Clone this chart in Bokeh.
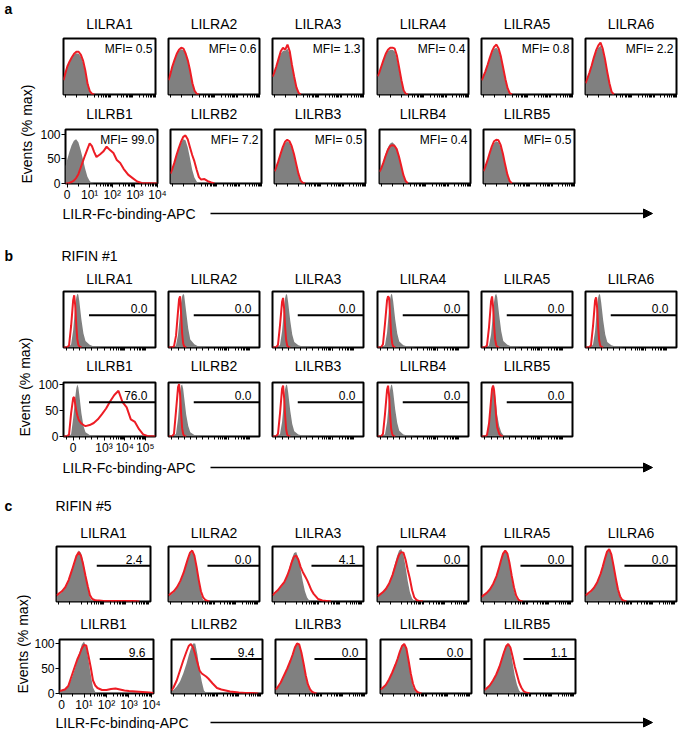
import math
from bokeh.plotting import figure
from bokeh.models import Range1d, FixedTicker, Label, Arrow, NormalHead, LinearAxis
from bokeh.layouts import row, column
from bokeh.embed import file_html
from bokeh.resources import INLINE

# ------------------------------------------------------------------ data
row1_names = ["LILRA1", "LILRA2", "LILRA3", "LILRA4", "LILRA5", "LILRA6"]
row2_names = ["LILRB1", "LILRB2", "LILRB3", "LILRB4", "LILRB5"]

# ---- panel a (x in decades, 0 = zero) ; y in % of max
a_x = [-0.07, 0.0, 0.1, 0.2, 0.3, 0.4, 0.5, 0.6, 0.7, 0.8, 0.9, 1.0, 1.1, 1.2,
       1.3, 1.45, 1.6, 1.75, 1.9, 2.05, 2.2, 2.35, 2.5, 2.7, 2.9, 3.1, 3.3, 4.0]
a_gray = [
    [33, 42, 55, 64, 72, 78, 81, 80, 74, 62, 42, 17, 4, 0],
    [30, 40, 56, 68, 78, 86, 89, 87, 78, 64, 44, 20, 5, 0],
    [38, 44, 55, 68, 80, 86, 86, 90, 80, 55, 32, 12, 2, 0],
    [38, 44, 55, 67, 78, 85, 88, 88, 85, 70, 48, 24, 6, 0],
    [30, 36, 46, 58, 70, 82, 90, 92, 86, 70, 48, 26, 9, 1, 0],
    [24, 32, 44, 57, 70, 83, 92, 96, 86, 66, 42, 20, 4, 0],
    [35, 48, 64, 78, 87, 90, 84, 68, 50, 30, 14, 5, 1, 0],
    [22, 30, 44, 58, 70, 82, 90, 88, 74, 52, 28, 12, 4, 0],
    [27, 34, 46, 60, 72, 82, 86, 83, 73, 57, 37, 17, 4, 0],
    [26, 32, 45, 60, 73, 81, 84, 80, 70, 54, 34, 15, 4, 0],
    [27, 34, 46, 60, 72, 82, 86, 84, 74, 57, 35, 15, 3, 0],
]
a_red = [
    [28, 40, 55, 65, 73, 80, 84, 84, 78, 66, 46, 20, 6, 1, 0],
    [28, 38, 55, 68, 80, 88, 92, 90, 80, 66, 46, 22, 7, 1, 0],
    [35, 42, 55, 70, 85, 92, 88, 98, 85, 58, 35, 14, 3, 0],
    [36, 42, 55, 68, 80, 88, 92, 92, 90, 76, 52, 28, 8, 1, 0],
    [28, 34, 45, 58, 72, 85, 94, 98, 90, 74, 52, 30, 12, 2, 0],
    [22, 30, 42, 56, 72, 86, 96, 102, 90, 70, 45, 22, 5, 0],
    [0, 0, 1, 3, 6, 11, 19, 32, 45, 58, 70, 82, 76, 64, 54, 59, 65, 75, 68, 62,
     48, 42, 30, 18, 11, 4, 1, 0],
    [20, 28, 42, 58, 72, 85, 95, 98, 90, 74, 58, 45, 28, 13, 8, 9, 5, 2, 0],
    [25, 32, 45, 60, 74, 85, 89, 86, 76, 60, 40, 20, 6, 1, 0],
    [24, 30, 42, 56, 68, 76, 78, 77, 70, 55, 36, 17, 5, 0],
    [25, 33, 46, 61, 75, 86, 89, 88, 78, 60, 38, 18, 5, 0],
]
a_mfi = ["0.5", "0.6", "1.3", "0.4", "0.8", "2.2", "99.0", "7.2", "0.5", "0.4", "0.5"]
a_ticks = [0, 1, 2, 3, 4]
a_tick_labels = ["0", "10\u00b9", "10\u00b2", "10\u00b3", "10\u2074"]

# ---- panel b (RIFIN #1); x in display units (0 = zero, 10^3 at 1.5, one unit per decade)
b_x = [-0.47, -0.3, -0.2, -0.1, 0.0, 0.05, 0.1, 0.15, 0.2, 0.25, 0.3, 0.4, 0.5, 0.6,
       0.8, 1.0, 1.2, 1.4, 1.6, 1.8, 2.0, 2.2, 2.4, 2.6, 2.8, 3.0, 3.2, 3.4, 3.6, 4.0]
b_gray = [
    [0, 0, 1, 6, 32, 55, 78, 93, 100, 98, 86, 52, 26, 12, 5, 2, 1, 0],
    [0, 0, 0, 4, 24, 44, 66, 84, 95, 100, 97, 66, 35, 15, 6, 2, 1, 0],
    [0, 0, 1, 5, 30, 52, 75, 92, 100, 97, 84, 50, 24, 10, 4, 2, 1, 0],
    [0, 0, 1, 5, 28, 50, 74, 90, 100, 98, 86, 52, 26, 11, 4, 2, 1, 0],
    [0, 0, 0, 4, 24, 45, 68, 86, 97, 100, 94, 60, 30, 12, 5, 2, 1, 0],
    [0, 0, 1, 6, 30, 54, 77, 93, 100, 97, 84, 50, 24, 10, 4, 2, 1, 0],
    [0, 0, 0, 5, 35, 55, 75, 92, 100, 95, 80, 45, 20, 8, 3, 1, 0],
    [0, 0, 1, 6, 35, 60, 85, 98, 100, 92, 75, 42, 20, 8, 3, 1, 0],
    [0, 0, 1, 5, 28, 50, 75, 92, 100, 98, 85, 50, 24, 10, 4, 2, 1, 0],
    [0, 0, 1, 5, 28, 50, 74, 90, 100, 98, 86, 52, 26, 11, 4, 2, 1, 0],
    [0, 0, 2, 20, 62, 85, 100, 96, 80, 60, 42, 20, 8, 3, 1, 0],
]
b_red = [
    [0, 0, 4, 40, 88, 97, 78, 42, 16, 5, 2, 0],
    [0, 0, 2, 22, 68, 90, 95, 62, 26, 8, 2, 0],
    [0, 0, 5, 42, 85, 92, 72, 38, 14, 4, 1, 0],
    [0, 0, 6, 45, 88, 95, 92, 60, 24, 8, 2, 0],
    [0, 0, 4, 38, 86, 95, 76, 40, 15, 5, 1, 0],
    [0, 0, 4, 40, 87, 93, 74, 38, 14, 4, 1, 0],
    [0, 0, 4, 45, 74, 76, 62, 50, 41, 34, 30, 25, 22, 20, 22, 26, 33, 43, 54, 68,
     80, 88, 66, 56, 33, 28, 14, 4, 1, 0],
    [0, 0, 5, 50, 95, 101, 80, 44, 16, 5, 1, 0],
    [0, 0, 5, 45, 92, 98, 75, 40, 14, 4, 1, 0],
    [0, 0, 5, 44, 90, 98, 78, 42, 15, 5, 1, 0],
    [0, 0, 3, 25, 70, 92, 98, 88, 65, 38, 18, 5, 1, 0],
]
b_gate_values = ["0.0", "0.0", "0.0", "0.0", "0.0", "0.0", "76.0", "0.0", "0.0", "0.0", "0.0"]
b_gate_start = 0.77
b_gate_level = [60, 66]
b_ticks = [0, 1.5, 2.5, 3.5]
b_tick_labels = ["0", "10\u00b3", "10\u2074", "10\u2075"]

# ---- panel c (RIFIN #5); x in decades
c_x = [-0.09, 0.0, 0.15, 0.3, 0.45, 0.6, 0.7, 0.8, 0.9, 1.0, 1.1, 1.2, 1.3, 1.4,
       1.5, 1.6, 1.7, 1.8, 2.0, 2.2, 2.4, 2.6, 2.8, 3.0, 3.3, 3.6, 3.9, 4.09]
c_gray = [
    [10, 13, 18, 26, 40, 60, 75, 90, 100, 95, 78, 52, 28, 8, 1, 0],
    [10, 13, 18, 26, 38, 54, 68, 82, 94, 98, 92, 70, 40, 15, 3, 0],
    [10, 14, 20, 28, 38, 54, 68, 84, 95, 97, 85, 64, 40, 20, 8, 2, 0],
    [9, 12, 17, 25, 38, 56, 72, 88, 100, 103, 92, 68, 40, 18, 6, 1, 0],
    [8, 11, 16, 23, 34, 50, 65, 82, 95, 100, 92, 72, 45, 22, 8, 2, 0],
    [10, 13, 18, 26, 37, 52, 67, 83, 96, 101, 90, 68, 42, 20, 7, 1, 0],
    [4, 5, 8, 15, 30, 50, 66, 82, 98, 104, 92, 66, 38, 12, 3, 0],
    [4, 7, 14, 24, 40, 60, 76, 90, 100, 100, 78, 48, 24, 6, 1, 0],
    [7, 11, 20, 34, 49, 65, 78, 91, 99, 96, 80, 58, 33, 14, 5, 1, 0],
    [7, 10, 16, 27, 42, 58, 72, 86, 97, 100, 88, 62, 35, 15, 5, 1, 0],
    [6, 9, 15, 25, 38, 55, 70, 85, 97, 100, 88, 62, 36, 18, 6, 1, 0],
]
c_red = [
    [12, 15, 20, 28, 42, 62, 76, 90, 97, 90, 72, 50, 30, 12, 5, 3, 2, 2, 1, 1, 1, 1, 1, 1, 1, 0],
    [12, 15, 20, 28, 40, 56, 70, 84, 96, 100, 90, 68, 42, 20, 8, 3, 1, 0],
    [12, 16, 22, 30, 38, 52, 64, 78, 88, 90, 82, 68, 58, 50, 42, 32, 22, 15, 5, 2, 1, 0],
    [10, 13, 18, 25, 36, 52, 66, 80, 92, 97, 96, 82, 62, 44, 22, 8, 3, 1, 0],
    [9, 12, 17, 24, 35, 50, 64, 80, 94, 100, 94, 75, 50, 28, 12, 4, 1, 0],
    [12, 15, 20, 27, 38, 54, 68, 84, 98, 103, 92, 70, 46, 24, 10, 3, 1, 0],
    [5, 6, 8, 15, 35, 55, 68, 78, 90, 97, 96, 75, 52, 26, 16, 11, 9, 7, 7, 9, 10, 8, 6, 5, 4, 3, 2, 1],
    [6, 12, 26, 46, 66, 84, 95, 99, 92, 78, 62, 46, 40, 37, 34, 30, 25, 20, 11, 8, 6, 4, 3, 2, 1, 1, 0],
    [8, 12, 22, 36, 50, 66, 78, 92, 100, 98, 82, 60, 36, 18, 8, 3, 1, 0],
    [8, 11, 17, 28, 42, 58, 70, 84, 95, 99, 90, 66, 40, 20, 8, 3, 1, 0],
    [7, 10, 16, 26, 38, 54, 68, 82, 94, 99, 92, 74, 54, 38, 22, 12, 5, 2, 0],
]
c_gate_values = ["2.4", "0.0", "4.1", "0.0", "0.0", "0.0", "9.6", "9.4", "0.0", "0.0", "1.1"]
c_gate_start = 1.7
c_gate_level = [70, 69]
c_ticks = [0, 1, 2, 3, 4]
c_tick_labels = ["0", "10\u00b9", "10\u00b2", "10\u00b3", "10\u2074"]

y_ticks = [0, 50, 100]

# ------------------------------------------------------------------ style / layout
FONT = "Liberation Sans"
RED = "#ed1c24"
GRAY = "#808080"
W = 676          # total layout width
X0 = 3           # page x of the layout's left edge


def log_minors(decade_starts):
    return [d + math.log10(k) for d in decade_starts for k in range(2, 10)]


def make_panel(xs, gray, red, xr, yr, fw, fh, mbl, mbr, mbt, mbb,
               ticks, labels, minors, labelled, mfi=None,
               gate_value=None, gate_start=None, gate_level=None):
    p = figure(frame_width=fw, frame_height=fh, x_range=Range1d(*xr), y_range=Range1d(*yr),
               x_axis_type=None, y_axis_type=None, toolbar_location=None,
               output_backend="svg", title=None,
               min_border_left=mbl, min_border_right=mbr,
               min_border_top=mbt, min_border_bottom=mbb)
    p.outline_line_color = "black"
    p.outline_line_width = 2
    p.outline_line_alpha = 1
    p.background_fill_color = "white"
    p.border_fill_color = "white"

    p.varea(x=xs[:len(gray)], y1=0, y2=gray, fill_color=GRAY, fill_alpha=1)
    p.line(x=xs[:len(red)], y=red, line_color=RED, line_width=2)

    if labelled:
        ticker = FixedTicker(ticks=ticks, minor_ticks=minors)
    else:
        ticker = FixedTicker(ticks=[], minor_ticks=sorted(list(ticks) + list(minors)))
    ax = LinearAxis(ticker=ticker)
    ax.axis_line_color = None
    ax.major_tick_in = 0
    ax.major_tick_out = 4
    ax.minor_tick_in = 0
    ax.minor_tick_out = 3
    ax.major_tick_line_width = 1
    ax.minor_tick_line_width = 1
    ax.major_label_standoff = 0
    ax.major_label_text_font = FONT
    ax.major_label_text_font_size = "12px"
    ax.major_label_text_color = "black"
    ax.major_label_overrides = {float(t): l for t, l in zip(ticks, labels)}
    p.add_layout(ax, "below")

    if labelled:
        yax = LinearAxis(ticker=FixedTicker(ticks=y_ticks, minor_ticks=[]))
        yax.axis_line_color = None
        yax.major_tick_in = 0
        yax.major_tick_out = 4
        yax.minor_tick_line_color = None
        yax.major_label_standoff = 1
        yax.major_label_text_font = FONT
        yax.major_label_text_font_size = "12px"
        yax.major_label_text_color = "black"
        p.add_layout(yax, "left")

    if mfi is not None:
        p.add_layout(Label(x=fw - 3, y=fh - 3, x_units="screen", y_units="screen",
                           text="MFI= " + mfi, text_align="right", text_baseline="top",
                           text_font=FONT, text_font_size="12px", text_color="black"))
    if gate_value is not None:
        p.segment(x0=[gate_start], y0=[gate_level], x1=[xr[1]], y1=[gate_level],
                  line_color="black", line_width=2)
        p.add_layout(Label(x=xr[1], y=gate_level, x_offset=-8, y_offset=2,
                           text=gate_value, text_align="right", text_baseline="bottom",
                           text_font=FONT, text_font_size="12px", text_color="black"))
    return p


def panel_row(idx0, n, xs, grays, reds, xr, yr, lefts, fws, start0, mbt, fh, mbb,
              ticks, labels, minors, labelled, mfis=None,
              gates=None, gate_start=None, gate_level=None):
    figs = []
    starts = [start0] + [lefts[i] - 3 for i in range(1, len(lefts))]
    for i in range(n):
        end = starts[i + 1] if i + 1 < n else lefts[i] + fws[i] + 3
        k = idx0 + i
        figs.append(make_panel(
            xs, grays[k], reds[k], xr, yr, fws[i], fh,
            lefts[i] - starts[i], end - lefts[i] - fws[i], mbt, mbb,
            ticks, labels, minors, labelled and i == 0,
            mfi=None if mfis is None else mfis[k],
            gate_value=None if gates is None else gates[k],
            gate_start=gate_start, gate_level=gate_level))
    return row(*figs)


def band(w, h, texts, arrow=None):
    """Plain figure whose data units are pixels (y downwards) holding texts / arrow."""
    p = figure(width=w, height=h, x_range=Range1d(0, w), y_range=Range1d(h, 0),
               x_axis_type=None, y_axis_type=None, toolbar_location=None,
               output_backend="svg", title=None, min_border=0)
    p.outline_line_color = None
    p.background_fill_color = "white"
    p.border_fill_color = "white"
    for (x, y, t, size, bold, align, angle) in texts:
        p.add_layout(Label(x=x, y=y, text=t, text_align=align, text_baseline="middle",
                           angle=angle, text_font=FONT, text_font_size=size,
                           text_font_style="bold" if bold else "normal", text_color="black"))
    if arrow is not None:
        x0, x1, y = arrow
        p.add_layout(Arrow(end=NormalHead(size=9, fill_color="black", line_color="black"),
                           x_start=x0, y_start=y, x_end=x1, y_end=y,
                           line_color="black", line_width=1.5))
    return p


def title_items(names, lefts, fws, origin, y):
    return [(lefts[i] + fws[i] / 2 - origin, y, names[i], "14px", False, "center", 0)
            for i in range(len(names))]


LEFT_AB = [63, 168, 272, 377, 481, 585]
FW_AB = [92, 91, 91, 91, 91, 91]
LEFT_C = [56, 168, 272, 377, 481, 585]
FW_C = [94, 91, 91, 91, 91, 91]

a_minor = [0.5] + log_minors([1, 2, 3])
b_minor = [-0.3, 0.3, 0.6, 0.9, 1.2] + log_minors([1.5, 2.5])
c_minor = [0.5] + log_minors([1, 2, 3])

XLAB = "LILR-Fc-binding-APC"
YLAB = "Events (% max)"


def block(wy, ylab_x, ylab_y, lefts, fws, xs, grays, reds, xr, yr, ticks, labels, minors,
          h1, fh1, mbb1, th, ty, h2, fh2, mbb2, mfis=None, gates=None, gate_start=None,
          gate_levels=(None, None)):
    start0 = X0 + wy
    r1 = panel_row(0, 6, xs, grays, reds, xr, yr, lefts, fws, start0, h1 - fh1 - mbb1, fh1,
                   mbb1, ticks, labels, minors, False, mfis=mfis, gates=gates,
                   gate_start=gate_start, gate_level=gate_levels[0])
    t2 = band(W - wy, th, title_items(row2_names, lefts, fws, start0, ty))
    r2 = panel_row(6, 5, xs, grays, reds, xr, yr, lefts, fws, start0, h2 - fh2 - mbb2, fh2,
                   mbb2, ticks, labels, minors, True, mfis=mfis, gates=gates,
                   gate_start=gate_start, gate_level=gate_levels[1])
    yl = band(wy, h1 + th + h2, [(ylab_x, ylab_y, YLAB, "14px", False, "left", math.pi / 2)])
    return row(yl, column(r1, t2, r2))


children = [
    # page y 0 - 34 : "a" + first titles
    band(W, 34, [(1, 8, "a", "14px", True, "left", 0)]
         + title_items(row1_names, LEFT_AB, FW_AB, X0, 23)),
    # page y 34 - 205
    block(34, 23, 149, LEFT_AB, FW_AB, a_x, a_gray, a_red, (-0.07, 4.0), (0, 110),
          a_ticks, a_tick_labels, a_minor, 69, 56, 9, 22, 10, 80, 54, 22, mfis=a_mfi),
    # page y 205 - 287
    band(W, 82, [(59, 8, XLAB, "14px", False, "left", 0),
                 (1, 50, "b", "14px", True, "left", 0),
                 (58, 50, "RIFIN #1", "14px", False, "left", 0)]
         + title_items(row1_names, LEFT_AB, FW_AB, X0, 73), arrow=(207, 649, 8)),
    # page y 287 - 459
    block(32, 21, 149, LEFT_AB, FW_AB, b_x, b_gray, b_red, (-0.47, 4.0), (0, 104),
          b_ticks, b_tick_labels, b_minor, 69, 56, 9, 22, 9, 81, 54, 23,
          gates=b_gate_values, gate_start=b_gate_start, gate_levels=b_gate_level),
    # page y 459 - 542
    band(W, 83, [(59, 8, XLAB, "14px", False, "left", 0),
                 (1, 46, "c", "14px", True, "left", 0),
                 (52, 46, "RIFIN #5", "14px", False, "left", 0)]
         + title_items(row1_names, LEFT_C, FW_C, X0, 73), arrow=(207, 649, 8)),
    # page y 542 - 713
    block(28, 19.5, 151, LEFT_C, FW_C, c_x, c_gray, c_red, (-0.09, 4.09), (0, 108),
          c_ticks, c_tick_labels, c_minor, 68, 55, 9, 25, 13, 78, 54, 20,
          gates=c_gate_values, gate_start=c_gate_start, gate_levels=c_gate_level),
    # page y 713 - 729
    band(W, 16, [(52, 8, XLAB, "14px", False, "left", 0)], arrow=(207, 649, 8)),
]

root = column(*children, margin=(0, 0, 0, X0))

open("out.html", "w").write(file_html(root, INLINE))
